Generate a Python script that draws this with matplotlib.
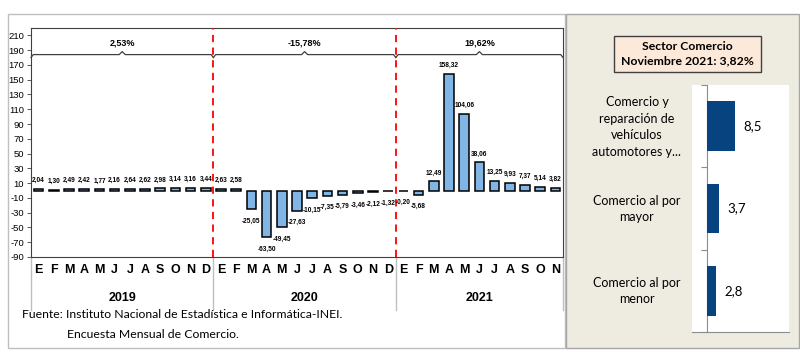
import matplotlib
matplotlib.use('Agg')
import matplotlib.pyplot as plt
from matplotlib.patches import Rectangle
import numpy as np

# ---------------- data ----------------
months = ['E', 'F', 'M', 'A', 'M', 'J', 'J', 'A', 'S', 'O', 'N', 'D']
years = ['2019', '2020', '2021']
v2019 = [2.04, 1.30, 2.49, 2.42, 1.77, 2.16, 2.64, 2.62, 2.98, 3.14, 3.16, 3.44]
v2020 = [2.63, 2.58, -25.05, -63.50, -49.45, -27.63, -10.15, -7.35, -5.79, -3.46, -2.12, -1.32]
v2021 = [-0.20, -5.68, 12.49, 158.32, 104.06, 38.06, 13.25, 9.93, 7.37, 5.14, 3.82]
annual_labels = ['2,53%', '-15,78%', '19,62%']
yticks = list(range(-90, 211, 20))

sector_title = 'Sector Comercio\nNoviembre 2021: 3,82%'
sector_cats = ['Comercio y\nreparación de\nvehículos\nautomotores y...',
               'Comercio al por\nmayor',
               'Comercio al por\nmenor']
sector_vals = [8.5, 3.7, 2.8]

source_1 = 'Fuente: Instituto Nacional de Estadística e Informática-INEI.'
source_2 = 'Encuesta Mensual de Comercio.'

# ---------------- helpers ----------------
W, H = 800, 352
def fx(x):
    return x / W
def fy(y):
    return 1 - y / H

ARIAL = ['Liberation Sans', 'DejaVu Sans']
BODY = ['Lato', 'DejaVu Sans']

def fmt(v, d=2):
    return f'{v:.{d}f}'.replace('.', ',')

fig = plt.figure(figsize=(8, 3.52), dpi=100)

# background frames
fig.add_artist(Rectangle((fx(8), fy(348)), fx(565) - fx(8), fy(14) - fy(348),
                         transform=fig.transFigure, facecolor='white',
                         edgecolor='#BFBFBF', lw=1.0, zorder=-10))
fig.add_artist(Rectangle((fx(566), fy(348)), fx(799) - fx(566), fy(14) - fy(348),
                         transform=fig.transFigure, facecolor='#EEECE1',
                         edgecolor='#A6A6A6', lw=1.0, zorder=-10))

# ---------------- main chart ----------------
values = v2019 + v2020 + v2021
labels = (months * 3)[:len(values)]
x = np.arange(len(values))

ax = fig.add_axes([fx(31), fy(257), fx(563) - fx(31), fy(28) - fy(257)])
ax.bar(x, values, width=0.64, color='#80B5E6', edgecolor='black', lw=1.1, zorder=3)
ax.set_xlim(-0.5, len(values) - 0.5)
ax.set_ylim(-90, 220)
ax.set_yticks(yticks)
ax.set_yticklabels([str(t) for t in yticks], family=ARIAL, fontsize=6.8)
ax.tick_params(axis='y', length=3, width=0.6, color='#404040', pad=2)
ax.set_xticks([])
for s in ax.spines.values():
    s.set_color('#404040')
    s.set_linewidth(0.8)

# value labels
for xi, v in zip(x, values):
    if v >= 0:
        ax.annotate(fmt(v), (xi, v), xytext=(0, 3.5), textcoords='offset points',
                    ha='center', va='bottom', fontsize=4.7, fontweight='bold',
                    family=ARIAL, zorder=5)
    else:
        ax.annotate(fmt(v), (xi, v), xytext=(0, -6), textcoords='offset points',
                    ha='center', va='top', fontsize=4.7, fontweight='bold',
                    family=ARIAL, zorder=5)

# year separators (red dashed)
bounds = [-0.5, 11.5, 23.5, len(values) - 0.5]
for b in bounds[1:3]:
    ax.axvline(b, color='#FF0000', ls=(0, (4, 3)), lw=1.3, zorder=4)

# brackets with annual values
by = 184
for i in range(3):
    x0, x1 = bounds[i], bounds[i + 1]
    xc = (x0 + x1) / 2
    px = [x0, x0 + 0.15, xc - 0.2, xc, xc + 0.2, x1 - 0.15, x1]
    py = [by - 4, by, by, by + 4, by, by, by - 4]
    ax.plot(px, py, color='#404040', lw=0.9, zorder=4, clip_on=False)
    ax.text(xc, 200, annual_labels[i], ha='center', va='center', fontsize=6.5,
            fontweight='bold', family=ARIAL, zorder=5)

# category area: months, years, separators
xt = ax.get_xaxis_transform()
ph_px = 229.0
for b in bounds:
    ax.plot([b, b], [0, -53 / ph_px], transform=xt, color='#BFBFBF', lw=1.0,
            clip_on=False)
for xi, m in zip(x, labels):
    ax.text(xi, -13 / ph_px, m, transform=xt, ha='center', va='center',
            fontsize=9, fontweight='bold', family=ARIAL)
for i, yr in enumerate(years):
    xc = (bounds[i] + bounds[i + 1]) / 2
    ax.text(xc, -41 / ph_px, yr, transform=xt, ha='center', va='center',
            fontsize=9, fontweight='bold', family=ARIAL)

# source
fig.text(fx(22), fy(315), source_1, ha='left', va='center', fontsize=8.8, family=BODY)
fig.text(fx(67), fy(335), source_2, ha='left', va='center', fontsize=8.8, family=BODY)

# ---------------- right panel ----------------
fig.add_artist(Rectangle((fx(614), fy(72)), fx(761) - fx(614), fy(36) - fy(72),
                         transform=fig.transFigure, facecolor='#FDE9D9',
                         edgecolor='#404040', lw=1.0, zorder=1))
fig.text(fx(687.5), fy(54), sector_title, ha='center', va='center', fontsize=8.8,
         fontweight='bold', family=BODY, linespacing=1.35, zorder=2)

ax2 = fig.add_axes([fx(692), fy(332), fx(789) - fx(692), fy(85) - fy(332)])
ax2.set_facecolor('white')
yy = np.arange(len(sector_vals))
ax2.barh(yy, sector_vals, height=0.6, color='#07437E', zorder=3)
ax2.set_xlim(-4.56, 24.9)
ax2.set_ylim(len(sector_vals) - 0.5, -0.5)
ax2.spines['left'].set_position(('data', 0))
for k in ['top', 'right']:
    ax2.spines[k].set_visible(False)
ax2.spines['left'].set_color('#8C8C8C')
ax2.spines['bottom'].set_color('#8C8C8C')
ax2.set_xticks([])
ax2.set_yticks(np.arange(len(sector_vals) + 1) - 0.5)
ax2.set_yticklabels([''] * (len(sector_vals) + 1))
ax2.tick_params(axis='y', length=4, width=0.8, color='#8C8C8C')
for yi, v in zip(yy, sector_vals):
    ax2.annotate(fmt(v, 1), (v, yi), xytext=(6, 0), textcoords='offset points',
                 ha='left', va='center', fontsize=9.5, family=BODY)

# category labels
ycent = [127, 209, 291]
for lab, yc in zip(sector_cats, ycent):
    fig.text(fx(637), fy(yc), lab, ha='center', va='center', fontsize=9,
             family=BODY, linespacing=1.45)

fig.savefig('out.png', dpi=100)
